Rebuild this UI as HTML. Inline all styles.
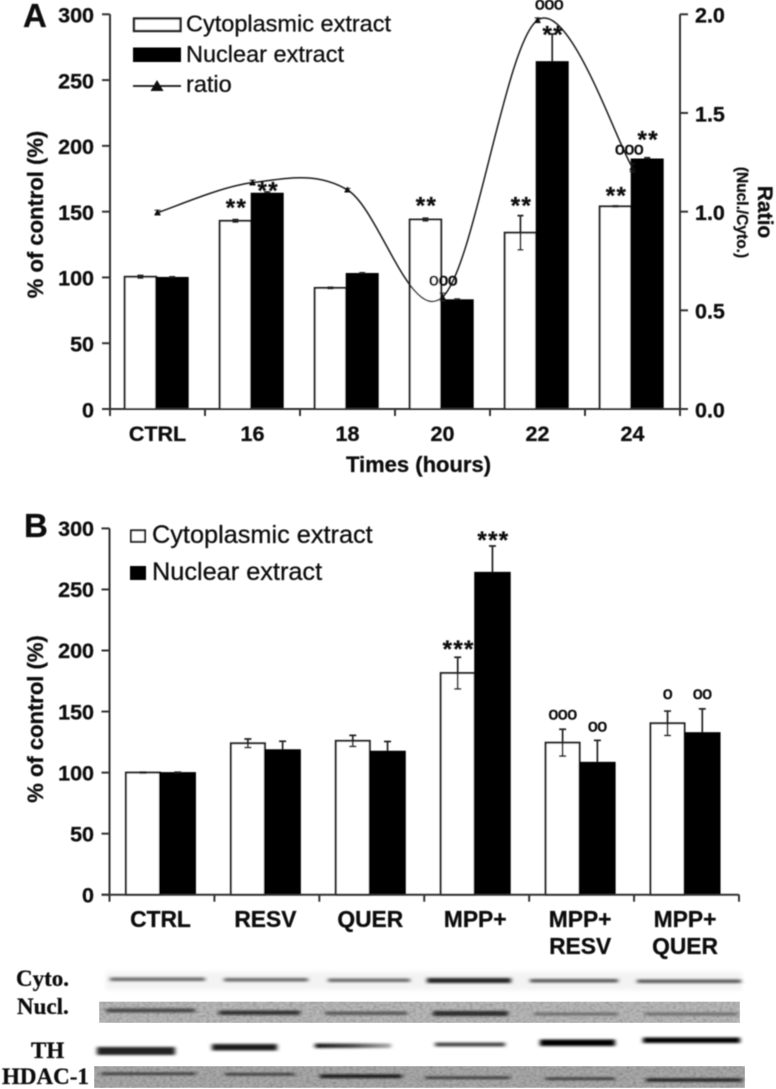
<!DOCTYPE html>
<html lang="en">
<head>
<meta charset="utf-8">
<title>Cytoplasmic and nuclear extract chart</title>
<style>
html,body{margin:0;padding:0;background:#fff;}
svg{display:block;font-family:"Liberation Sans",Arial,sans-serif;}
text{stroke:#111;stroke-width:0.3;}
</style>
</head>
<body>
<svg id="figure" xmlns="http://www.w3.org/2000/svg" width="776" height="1089" viewBox="0 0 776 1089">
  <defs>
    <filter id="soft" x="-5%" y="-5%" width="110%" height="110%"><feGaussianBlur stdDeviation="0.45"/></filter>
    <filter id="bandblur" x="-20%" y="-400%" width="140%" height="900%"><feGaussianBlur stdDeviation="2 1.2"/></filter>
    <filter id="bgblur" x="-5%" y="-50%" width="110%" height="200%"><feGaussianBlur stdDeviation="2.5"/></filter>
    <filter id="grain" x="0" y="0" width="100%" height="100%">
      <feTurbulence type="fractalNoise" baseFrequency="0.3 0.45" numOctaves="2" seed="4" result="n"/>
      <feColorMatrix in="n" type="matrix" values="0 0 0 0 0  0 0 0 0 0  0 0 0 0 0  0.8 0 0 0 -0.3" result="d"/>
      <feMerge><feMergeNode in="SourceGraphic"/><feMergeNode in="d"/></feMerge>
      <feGaussianBlur stdDeviation="0.5"/>
    </filter>
    <linearGradient id="edge-fade" x1="0" x2="1" y1="0" y2="0">
      <stop offset="0" stop-color="#111"/><stop offset="0.5" stop-color="#444"/><stop offset="1" stop-color="#aaa"/>
    </linearGradient>
  </defs>
  <g id="chart-a" filter="url(#soft)"></g>
  <g id="chart-b" filter="url(#soft)"></g>

  <g>
    <g filter="url(#soft)" font-family="'Liberation Serif',serif" font-weight="bold" font-size="23" fill="#111">
      <text x="16" y="986">Cyto.</text>
      <text x="17" y="1014">Nucl.</text>
      <text x="31" y="1058">TH</text>
      <text x="2" y="1084">HDAC-1</text>
    </g>
    <rect x="106" y="972" width="636" height="18" fill="#f3f3f3" filter="url(#bgblur)"/>
    <rect x="99" y="1001.5" width="641" height="21.5" fill="#b8b8b8" filter="url(#grain)"/>
    <rect x="94" y="1066" width="651" height="22" fill="#a8a8a8" filter="url(#grain)"/>
    <g fill="#666" filter="url(#bandblur)">
      <rect x="110" y="977.5" width="95" height="3.5"/>
      <rect x="224" y="978" width="84" height="3.5"/>
      <rect x="328" y="978.5" width="82" height="3.5"/>
      <rect x="427" y="978" width="84" height="5" fill="#222"/>
      <rect x="530" y="979" width="88" height="3.5" fill="#555"/>
      <rect x="637" y="979.5" width="104" height="3.5" fill="#555"/>
    </g>
    <g fill="#444" filter="url(#bandblur)">
      <rect x="106" y="1008.5" width="89" height="4"/>
      <rect x="219" y="1010.5" width="81" height="4.5" fill="#333"/>
      <rect x="325" y="1011.5" width="82" height="3.5" fill="#555"/>
      <rect x="433" y="1011" width="75" height="5" fill="#2a2a2a"/>
      <rect x="534" y="1012.5" width="84" height="3" fill="#6a6a6a"/>
      <rect x="645" y="1012.5" width="92" height="3" fill="#6a6a6a"/>
    </g>
    <g fill="#111" filter="url(#bandblur)">
      <rect x="97" y="1047" width="78" height="8" fill="#222"/>
      <rect x="212" y="1044" width="65" height="6.5" fill="#1a1a1a"/>
      <rect x="315" y="1043.5" width="76" height="4.5" fill="url(#edge-fade)"/>
      <rect x="435" y="1042.5" width="70" height="4" fill="#444"/>
      <rect x="540" y="1039.5" width="75" height="6.5" fill="#000"/>
      <rect x="643" y="1037.5" width="97" height="5.5" fill="#000"/>
    </g>
    <g fill="#333" filter="url(#bandblur)">
      <rect x="101" y="1072.5" width="95" height="2.5"/>
      <rect x="225" y="1073" width="70" height="2.5"/>
      <rect x="320" y="1074.5" width="82" height="3.5" fill="#111"/>
      <rect x="425" y="1076.5" width="85" height="2.5"/>
      <rect x="545" y="1077.5" width="70" height="2.5"/>
      <rect x="646" y="1078.5" width="96" height="3" fill="#111"/>
    </g>
  </g>
</svg>
<script>
// Panel A data
const aCategories = ['CTRL', '16', '18', '20', '22', '24'];
const aCytoValues = [100.5, 143, 92, 144, 134, 154];
const aCytoErrors = [1, 1, 0.5, 1, 13, 0.3];
const aNuclearValues = [100, 164, 103, 83, 264, 190];
const aNuclearErrors = [0.4, 1, 0.5, 0.5, 21, 1];
const aRatioValues = [0.995, 1.147, 1.11, 0.567, 1.97, 1.223];
const aRatioErrors = [0.012, 0.012, 0.008, 0.02, 0.012, 0.02];
const aLeftTicks = [0, 50, 100, 150, 200, 250, 300];
const aRightTicks = ['0.0', '0.5', '1.0', '1.5', '2.0'];
const aNotes = [
  {cat: 1, series: 0, text: '**', level: 155.8},
  {cat: 1, series: 1, text: '**', level: 168.7},
  {cat: 3, series: 0, text: '**', level: 157.3},
  {cat: 4, series: 0, text: '**', level: 157.3},
  {cat: 4, series: 1, text: '**', level: 287.3},
  {cat: 5, series: 0, text: '**', level: 165},
  {cat: 5, series: 1, text: '**', level: 207.5},
  {cat: 3, series: 1, text: 'ooo', level: 97.3, shift: -14},
  {cat: 4, series: 1, text: 'ooo', level: 307, shift: -3},
  {cat: 5, series: 1, text: 'ooo', level: 196.9, shift: -18}
];

// Panel B data
const bCategories = [['CTRL'], ['RESV'], ['QUER'], ['MPP+'], ['MPP+', 'RESV'], ['MPP+', 'QUER']];
const bCytoValues = [100, 124, 126, 181.5, 124.5, 140.4];
const bCytoErrors = [0.3, 3.5, 4.5, 13, 11, 10];
const bNuclearValues = [100, 118.7, 117.5, 264, 108.4, 132.7];
const bNuclearErrors = [0.3, 7, 8, 21.6, 18, 19.5];
const bLeftTicks = [0, 50, 100, 150, 200, 250, 300];
const bNotes = [
  {cat: 3, series: 0, text: '***', level: 204},
  {cat: 3, series: 1, text: '***', level: 293.2},
  {cat: 4, series: 0, text: 'ooo', level: 147.4},
  {cat: 4, series: 1, text: 'oo', level: 137.3},
  {cat: 5, series: 0, text: 'o', level: 164.1},
  {cat: 5, series: 1, text: 'oo', level: 164.1}
];

const NS = 'http://www.w3.org/2000/svg';
const INK = '#222';
const AXIS = '#333';

function make(parent, tag, attrs, content) {
  const node = document.createElementNS(NS, tag);
  for (const key in attrs) node.setAttribute(key, attrs[key]);
  if (content !== undefined) node.textContent = content;
  parent.appendChild(node);
  return node;
}
function line(parent, x1, y1, x2, y2, color, width) {
  return make(parent, 'line', {x1: x1, y1: y1, x2: x2, y2: y2, stroke: color, 'stroke-width': width});
}
function label(parent, x, y, str, size, weight, anchor) {
  return make(parent, 'text', {x: x, y: y, 'font-size': size, 'font-weight': weight, 'text-anchor': anchor, fill: '#111'}, str);
}

function drawBars(parent, n, xCenter, yScale, y0, cyto, cytoErr, nuc, nucErr, split, wCyto, wNuc, capHalf) {
  for (let i = 0; i < n; i++) {
    const s = xCenter(i) + split;
    const yc = yScale(cyto[i]);
    const yn = yScale(nuc[i]);

    const cBar = make(parent, 'rect', {x: s - wCyto, y: yc, width: wCyto, height: y0 - yc, fill: '#fff', stroke: INK, 'stroke-width': 2});
    
    

    const nBar = make(parent, 'rect', {x: s, y: yn, width: wNuc, height: y0 - yn, fill: '#000', stroke: '#000', 'stroke-width': 1});
    
    

    const cx = s - wCyto / 2;
    const cErr = make(parent, 'path', {
      d: 'M' + (cx - capHalf) + ' ' + yScale(cyto[i] + cytoErr[i]) + 'h' + (2 * capHalf) +
         'M' + cx + ' ' + yScale(cyto[i] + cytoErr[i]) + 'V' + yScale(cyto[i] - cytoErr[i]) +
         'M' + (cx - capHalf) + ' ' + yScale(cyto[i] - cytoErr[i]) + 'h' + (2 * capHalf),
      stroke: INK, 'stroke-width': 1.7, fill: 'none'});
    
    

    const nx = s + wNuc / 2;
    const nErr = make(parent, 'path', {
      d: 'M' + (nx - capHalf) + ' ' + yScale(nuc[i] + nucErr[i]) + 'h' + (2 * capHalf) +
         'M' + nx + ' ' + yScale(nuc[i] + nucErr[i]) + 'V' + yn,
      stroke: INK, 'stroke-width': 1.7, fill: 'none'});
    
    
  }
}

function drawNotes(parent, notes, xCenter, yScale, split, wCyto, wNuc) {
  notes.forEach(function (note) {
    const base = xCenter(note.cat) + split + (note.series === 0 ? -wCyto / 2 : wNuc / 2);
    const x = base + (note.shift || 0);
    const y = yScale(note.level);
    const star = note.text.charAt(0) === '*';
    const t = make(parent, 'text', star
      ? {x: x + 1, y: y + 11.5, 'font-size': 24, 'font-weight': 'bold', 'letter-spacing': 1.4, 'text-anchor': 'middle', fill: '#111'}
      : {x: x, y: y + 4.6, 'font-size': 17.5, 'letter-spacing': -0.3, 'text-anchor': 'middle', fill: '#111', style: 'stroke-width:0.7'}, note.text);
    
    
  });
}

/* ---------- Panel A ---------- */
(function () {
  const g = document.getElementById('chart-a');
  const yZero = 409;
  const xLeft = 110;
  const xRight = 680;
  const y = function (v) { return yZero - v * (394.7 / 300); };
  const r = function (v) { return yZero - v * (394.7 / 2); };
  const x = function (i) { return xLeft + (xRight - xLeft) / aCategories.length * (i + 0.5); };
  const xEdge = function (i) { return xLeft + (xRight - xLeft) / aCategories.length * i; };

  const panel = label(g, 23, 27, 'A', 33, 'bold', 'start');
  
  

  drawBars(g, aCategories.length, x, y, yZero, aCytoValues, aCytoErrors, aNuclearValues, aNuclearErrors, -1.3, 31.5, 32, 3);

  const leftAxis = line(g, xLeft, y(300), xLeft, yZero, AXIS, 2);
  
  

  const rightAxis = line(g, xRight, r(2), xRight, yZero, AXIS, 2);
  
  

  const baseAxis = line(g, xLeft - 8, yZero, xRight + 8, yZero, AXIS, 2);
  
  

  aLeftTicks.forEach(function (v) {
    const tick = line(g, xLeft - 8, y(v), xLeft, y(v), AXIS, 2);
    
    
    const t = label(g, 94, y(v) + 8.3, String(v), 21.5, 'bold', 'end');
    
    
  });
  aRightTicks.forEach(function (v) {
    const n = parseFloat(v);
    const tick = line(g, xRight, r(n), xRight + 8, r(n), AXIS, 2);
    
    
    const t = label(g, 695, r(n) + 8.3, v, 21.5, 'bold', 'start');
    
    
  });
  for (let i = 0; i <= aCategories.length; i++) {
    const tick = line(g, xEdge(i), yZero, xEdge(i), yZero + 7, AXIS, 2);
    
    
  }
  aCategories.forEach(function (c, i) {
    const t = label(g, x(i), 441, c, 21.5, 'bold', 'middle');
    
    
  });

  const xTitle = label(g, 418.5, 472, 'Times (hours)', 22, 'bold', 'middle');
  
  

  const yTitle = label(g, 0, 0, '% of control (%)', 22, 'bold', 'middle');
  yTitle.setAttribute('transform', 'translate(43 214.5) rotate(-90)');
  
  

  const rTitle = label(g, 0, 0, 'Ratio', 21, 'bold', 'middle');
  rTitle.setAttribute('transform', 'translate(758 212) rotate(90)');
  
  

  const rSub = label(g, 0, 0, '(Nucl./Cyto.)', 15.5, 'bold', 'middle');
  rSub.setAttribute('transform', 'translate(737 212.5) rotate(90)');
  
  

  /* smoothed ratio line */
  const pts = aRatioValues.map(function (v, i) { return [x(i), r(v)]; });
  let d = 'M' + pts[0][0] + ' ' + pts[0][1];
  for (let i = 0; i < pts.length - 1; i++) {
    const p0 = pts[Math.max(i - 1, 0)], p1 = pts[i], p2 = pts[i + 1], p3 = pts[Math.min(i + 2, pts.length - 1)];
    d += 'C' + (p1[0] + (p2[0] - p0[0]) / 6) + ' ' + (p1[1] + (p2[1] - p0[1]) / 6) + ' ' +
         (p2[0] - (p3[0] - p1[0]) / 6) + ' ' + (p2[1] - (p3[1] - p1[1]) / 6) + ' ' + p2[0] + ' ' + p2[1];
  }
  const ratioLine = make(g, 'path', {d: d, fill: 'none', stroke: '#1a1a1a', 'stroke-width': 1.5});
  
  

  pts.forEach(function (p, i) {
    const err = make(g, 'path', {
      d: 'M' + (p[0] - 3) + ' ' + r(aRatioValues[i] + aRatioErrors[i]) + 'h6M' + p[0] + ' ' + r(aRatioValues[i] + aRatioErrors[i]) +
         'V' + r(aRatioValues[i] - aRatioErrors[i]) + 'M' + (p[0] - 3) + ' ' + r(aRatioValues[i] - aRatioErrors[i]) + 'h6',
      stroke: '#222', 'stroke-width': 1, fill: 'none'});
    
    
    const m = make(g, 'path', {d: 'M' + p[0] + ' ' + (p[1] - 3.5) + 'l3.3 6h-6.6z', fill: '#111'});
    
    
  });

  drawNotes(g, aNotes, x, y, -1.3, 31.5, 32);

  /* legend */
  const lg = make(g, 'g', {});
  
  

  const k1 = make(lg, 'rect', {x: 134, y: 18.5, width: 46.5, height: 12.5, fill: '#fff', stroke: '#222', 'stroke-width': 2.4});
  
  
  const l1 = label(lg, 186, 31.5, 'Cytoplasmic extract', 23.5, 'normal', 'start');
  
  

  const k2 = make(lg, 'rect', {x: 133, y: 47.5, width: 48, height: 14.5, fill: '#000'});
  
  
  const l2 = label(lg, 186, 62, 'Nuclear extract', 23.5, 'normal', 'start');
  
  

  const k3 = line(lg, 133, 86, 181, 86, '#111', 1.8);
  
  
  const k3m = make(lg, 'path', {d: 'M157 80l6.5 11h-13z', fill: '#111'});
  
  
  const l3 = label(lg, 186, 92, 'ratio', 23.5, 'normal', 'start');
  
  
})();

/* ---------- Panel B ---------- */
(function () {
  const g = document.getElementById('chart-b');
  const yZero = 894.7;
  const xLeft = 109.5;
  const xRight = 739;
  const y = function (v) { return yZero - v * (366.3 / 300); };
  const x = function (i) { return xLeft + (xRight - xLeft) / bCategories.length * (i + 0.5); };
  const xEdge = function (i) { return xLeft + (xRight - xLeft) / bCategories.length * i; };

  const panel = label(g, 24, 537, 'B', 33, 'bold', 'start');
  
  

  drawBars(g, bCategories.length, x, y, yZero, bCytoValues, bCytoErrors, bNuclearValues, bNuclearErrors, -2, 34, 35.5, 3.5);

  const leftAxis = line(g, xLeft, y(300), xLeft, yZero, AXIS, 2);
  
  

  const baseAxis = line(g, xLeft - 8, yZero, xRight, yZero, AXIS, 2);
  
  

  bLeftTicks.forEach(function (v) {
    const tick = line(g, xLeft - 8, y(v), xLeft, y(v), AXIS, 2);
    
    
    const t = label(g, 94, y(v) + 7.7, String(v), 21.5, 'bold', 'end');
    
    
  });
  for (let i = 0; i <= bCategories.length; i++) {
    const tick = line(g, xEdge(i), yZero, xEdge(i), yZero + 7, AXIS, 2);
    
    
  }
  bCategories.forEach(function (c, i) {
    c.forEach(function (part, j) {
      const t = label(g, x(i) - 1.5, 927 + j * 27, part, 22.8, 'bold', 'middle');
      
      
    });
  });

  const yTitle = label(g, 0, 0, '% of control (%)', 22, 'bold', 'middle');
  yTitle.setAttribute('transform', 'translate(43 719) rotate(-90)');
  
  

  drawNotes(g, bNotes, x, y, -2, 34, 35.5);

  const lg = make(g, 'g', {});
  
  

  const k1 = make(lg, 'rect', {x: 131, y: 530.3, width: 14, height: 11.5, fill: '#fff', stroke: '#222', 'stroke-width': 2});
  
  
  const l1 = label(lg, 152, 543, 'Cytoplasmic extract', 25.3, 'normal', 'start');
  
  

  const k2 = make(lg, 'rect', {x: 130, y: 566, width: 16, height: 14, fill: '#000'});
  
  
  const l2 = label(lg, 152, 580, 'Nuclear extract', 25.3, 'normal', 'start');
  
  
})();
</script>
</body>
</html>
